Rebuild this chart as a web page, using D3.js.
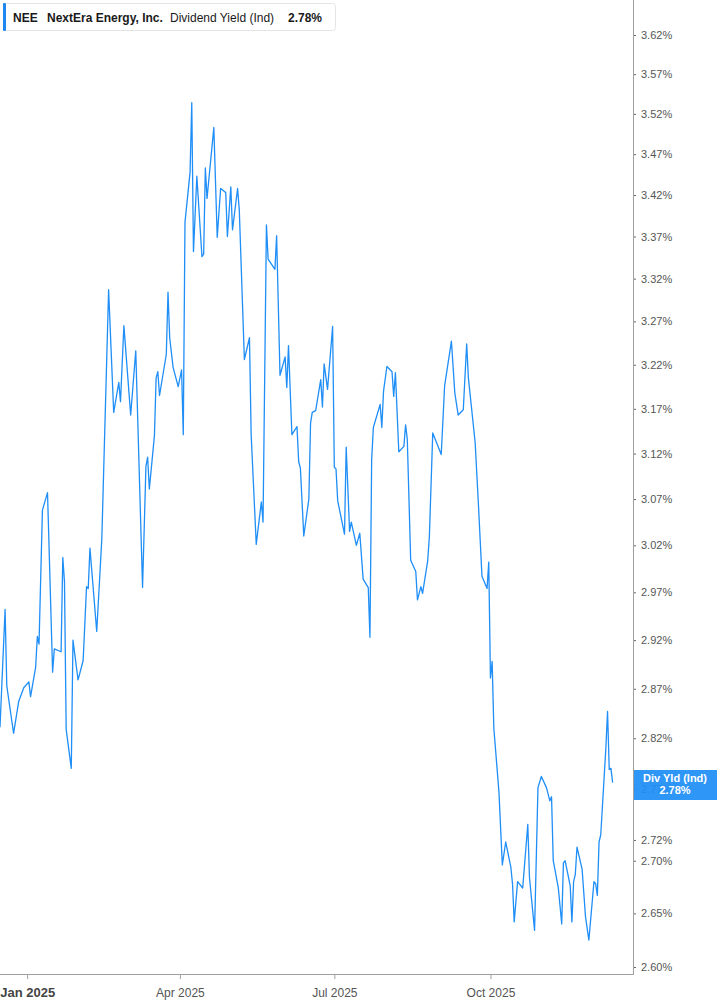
<!DOCTYPE html>
<html>
<head>
<meta charset="utf-8">
<script src="https://cdn.jsdelivr.net/npm/d3@7/dist/d3.min.js"></script>
<style>
html,body{margin:0;padding:0;background:#fff;}
svg{display:block;font-family:"Liberation Sans",Arial,sans-serif;}
</style>
</head>
<body>
<svg id="chart" width="717" height="1005"></svg>
<script>
const dates = ["2024-12-16","2024-12-19","2024-12-20","2024-12-24","2024-12-27","2024-12-30","2025-01-02","2025-01-03","2025-01-06","2025-01-07","2025-01-08","2025-01-10","2025-01-13","2025-01-16","2025-01-17","2025-01-21","2025-01-22","2025-01-23","2025-01-24","2025-01-27","2025-01-28","2025-01-31","2025-02-03","2025-02-05","2025-02-06","2025-02-07","2025-02-11","2025-02-14","2025-02-18","2025-02-21","2025-02-24","2025-02-25","2025-02-27","2025-03-03","2025-03-06","2025-03-10","2025-03-12","2025-03-13","2025-03-14","2025-03-17","2025-03-18","2025-03-19","2025-03-20","2025-03-24","2025-03-25","2025-03-26","2025-03-28","2025-03-31","2025-04-02","2025-04-03","2025-04-04","2025-04-07","2025-04-08","2025-04-09","2025-04-11","2025-04-14","2025-04-15","2025-04-16","2025-04-17","2025-04-21","2025-04-23","2025-04-25","2025-04-28","2025-04-29","2025-05-01","2025-05-02","2025-05-05","2025-05-06","2025-05-09","2025-05-12","2025-05-13","2025-05-16","2025-05-19","2025-05-20","2025-05-22","2025-05-23","2025-05-27","2025-05-28","2025-05-30","2025-06-02","2025-06-03","2025-06-04","2025-06-06","2025-06-09","2025-06-10","2025-06-11","2025-06-13","2025-06-16","2025-06-17","2025-06-18","2025-06-20","2025-06-23","2025-06-24","2025-06-25","2025-06-27","2025-06-30","2025-07-01","2025-07-02","2025-07-03","2025-07-07","2025-07-08","2025-07-10","2025-07-11","2025-07-14","2025-07-16","2025-07-18","2025-07-21","2025-07-22","2025-07-23","2025-07-24","2025-07-28","2025-07-29","2025-07-30","2025-08-01","2025-08-04","2025-08-05","2025-08-06","2025-08-08","2025-08-11","2025-08-12","2025-08-13","2025-08-15","2025-08-18","2025-08-19","2025-08-21","2025-08-22","2025-08-25","2025-08-26","2025-08-28","2025-09-02","2025-09-04","2025-09-08","2025-09-10","2025-09-12","2025-09-15","2025-09-17","2025-09-18","2025-09-22","2025-09-24","2025-09-26","2025-09-29","2025-09-30","2025-10-01","2025-10-02","2025-10-03","2025-10-06","2025-10-08","2025-10-10","2025-10-13","2025-10-14","2025-10-15","2025-10-17","2025-10-20","2025-10-23","2025-10-24","2025-10-27","2025-10-29","2025-10-31","2025-11-03","2025-11-05","2025-11-06","2025-11-07","2025-11-10","2025-11-12","2025-11-13","2025-11-14","2025-11-17","2025-11-18","2025-11-19","2025-11-20","2025-11-21","2025-11-24","2025-11-26","2025-11-28","2025-12-01","2025-12-02","2025-12-03","2025-12-04","2025-12-05","2025-12-08","2025-12-09","2025-12-10","2025-12-11","2025-12-12"];

const divYield = [2.831,2.952,2.873,2.825,2.857,2.871,2.877,2.862,2.892,2.924,2.916,3.058,3.077,2.887,2.911,2.908,3.007,2.981,2.829,2.790,2.920,2.879,2.899,2.976,2.974,3.017,2.929,3.027,3.307,3.166,3.200,3.178,3.265,3.163,3.236,2.975,3.106,3.116,3.081,3.140,3.205,3.212,3.185,3.232,3.304,3.251,3.217,3.195,3.214,3.141,3.387,3.448,3.534,3.352,3.443,3.346,3.349,3.453,3.416,3.503,3.369,3.428,3.423,3.370,3.430,3.378,3.428,3.402,3.226,3.251,3.141,3.021,3.067,3.045,3.384,3.343,3.331,3.371,3.208,3.229,3.194,3.242,3.141,3.150,3.111,3.104,3.030,3.070,3.154,3.166,3.168,3.203,3.172,3.221,3.192,3.264,3.105,3.103,3.068,3.032,3.127,3.035,3.045,3.020,3.033,2.984,2.975,2.923,3.113,3.149,3.175,3.149,3.190,3.218,3.212,3.184,3.211,3.122,3.128,3.152,3.136,3.004,2.992,2.962,2.976,2.969,3.003,3.029,3.143,3.119,3.196,3.247,3.188,3.163,3.169,3.244,3.205,3.132,3.061,2.987,2.974,3.002,2.881,2.898,2.830,2.767,2.696,2.718,2.694,2.678,2.642,2.680,2.674,2.735,2.684,2.634,2.771,2.782,2.771,2.758,2.762,2.700,2.674,2.640,2.698,2.700,2.676,2.642,2.680,2.687,2.713,2.692,2.647,2.625,2.680,2.678,2.667,2.718,2.725,2.810,2.847,2.789,2.790,2.776];

const yTickValues = [3.62,3.57,3.52,3.47,3.42,3.37,3.32,3.27,3.22,3.17,3.12,3.07,3.02,2.97,2.92,2.87,2.82,2.77,2.72,2.70,2.65,2.60];
const xTickDates = ["2025-01-01","2025-04-01","2025-07-01","2025-10-01"];
const xTickLabels = ["Jan 2025","Apr 2025","Jul 2025","Oct 2025"];

const headerTicker = "NEE";
const headerName = "NextEra Energy, Inc.";
const headerMetric = "Dividend Yield (Ind)";
const lastLabel = "Div Yld (Ind)";
const lastValueText = "2.78%";

const parse = d3.utcParse("%Y-%m-%d");
const data = dates.map((d,i)=>({date: parse(d), value: divYield[i]}));

const svg = d3.select("#chart");
const plotRight = 633, axisY = 974;

const x = d3.scaleUtc()
  .domain([Date.UTC(2024,11,16), Date.UTC(2025,11,24)])
  .range([0, plotRight]);
const y = d3.scaleLog()
  .domain([2.60, 3.62])
  .range([967, 35]);

// line
const line = d3.line().x(d=>x(d.date)).y(d=>y(d.value));
svg.append("path")
  .datum(data)
  .attr("d", line)
  .attr("fill","none")
  .attr("stroke","#1f8ef7")
  .attr("stroke-width",1.3)
  .attr("stroke-linejoin","round");

// right axis
const yAxis = d3.axisRight(y)
  .tickValues(yTickValues)
  .tickFormat(d=>d.toFixed(2)+"%")
  .tickSize(3)
  .tickPadding(5);
const gy = svg.append("g").attr("transform",`translate(${plotRight},0)`).call(yAxis);
gy.select(".domain").remove();
gy.selectAll(".tick line").attr("stroke","#666");
gy.selectAll(".tick text").attr("fill","#555").attr("font-size",11).attr("font-family","'Liberation Sans',Arial,sans-serif");
svg.append("line").attr("x1",plotRight+0.5).attr("x2",plotRight+0.5).attr("y1",0).attr("y2",axisY)
  .attr("stroke","#a0a0a0").attr("stroke-width",1);

// bottom axis
const xAxis = d3.axisBottom(x)
  .tickValues(xTickDates.map(parse))
  .tickFormat((d,i)=>xTickLabels[i])
  .tickSize(5)
  .tickPadding(9);
const gx = svg.append("g").attr("transform",`translate(0,${axisY})`).call(xAxis);
gx.select(".domain").remove();
gx.selectAll(".tick line").attr("stroke","#a0a0a0");
gx.selectAll(".tick text").attr("fill","#555").attr("font-size",12).attr("font-family","'Liberation Sans',Arial,sans-serif");
gx.selectAll(".tick text").filter((d,i)=>i===0).attr("font-weight","bold").attr("font-size",13).attr("fill","#444");
svg.append("line").attr("x1",0).attr("x2",plotRight+1).attr("y1",axisY+0.5).attr("y2",axisY+0.5)
  .attr("stroke","#a0a0a0").attr("stroke-width",1);

// last value label box
const lastV = divYield[divYield.length-1];
const boxY = 770;
svg.append("rect").attr("x",plotRight+1).attr("y",boxY).attr("width",717-plotRight-1).attr("height",30)
  .attr("fill","#1e8ef5").attr("fill-opacity",0.93);
svg.append("text").attr("x",675).attr("y",boxY+12).attr("text-anchor","middle")
  .attr("fill","#fff").attr("font-weight","bold").attr("font-size",11).text(lastLabel);
svg.append("text").attr("x",675).attr("y",boxY+24).attr("text-anchor","middle")
  .attr("fill","#fff").attr("font-weight","bold").attr("font-size",11).text(lastValueText);

// header
const hdr = svg.append("g");
hdr.append("rect").attr("x",3.5).attr("y",3.5).attr("width",332).attr("height",27).attr("rx",3)
  .attr("fill","#fff").attr("stroke","#e4e4e4");
hdr.append("rect").attr("x",3).attr("y",3).attr("width",3).attr("height",28).attr("rx",1).attr("fill","#1e88f0");
hdr.append("text").attr("x",13).attr("y",21.5).attr("font-size",12).attr("font-weight","bold").attr("fill","#1a1a1a").text(headerTicker);
hdr.append("text").attr("x",47).attr("y",21.5).attr("font-size",12).attr("font-weight","bold").attr("fill","#1a1a1a").text(headerName);
hdr.append("text").attr("x",170).attr("y",21.5).attr("font-size",12).attr("fill","#1a1a1a").text(headerMetric);
hdr.append("text").attr("x",288).attr("y",21.5).attr("font-size",12).attr("font-weight","bold").attr("fill","#1a1a1a").text(lastValueText);
</script>
</body>
</html>
